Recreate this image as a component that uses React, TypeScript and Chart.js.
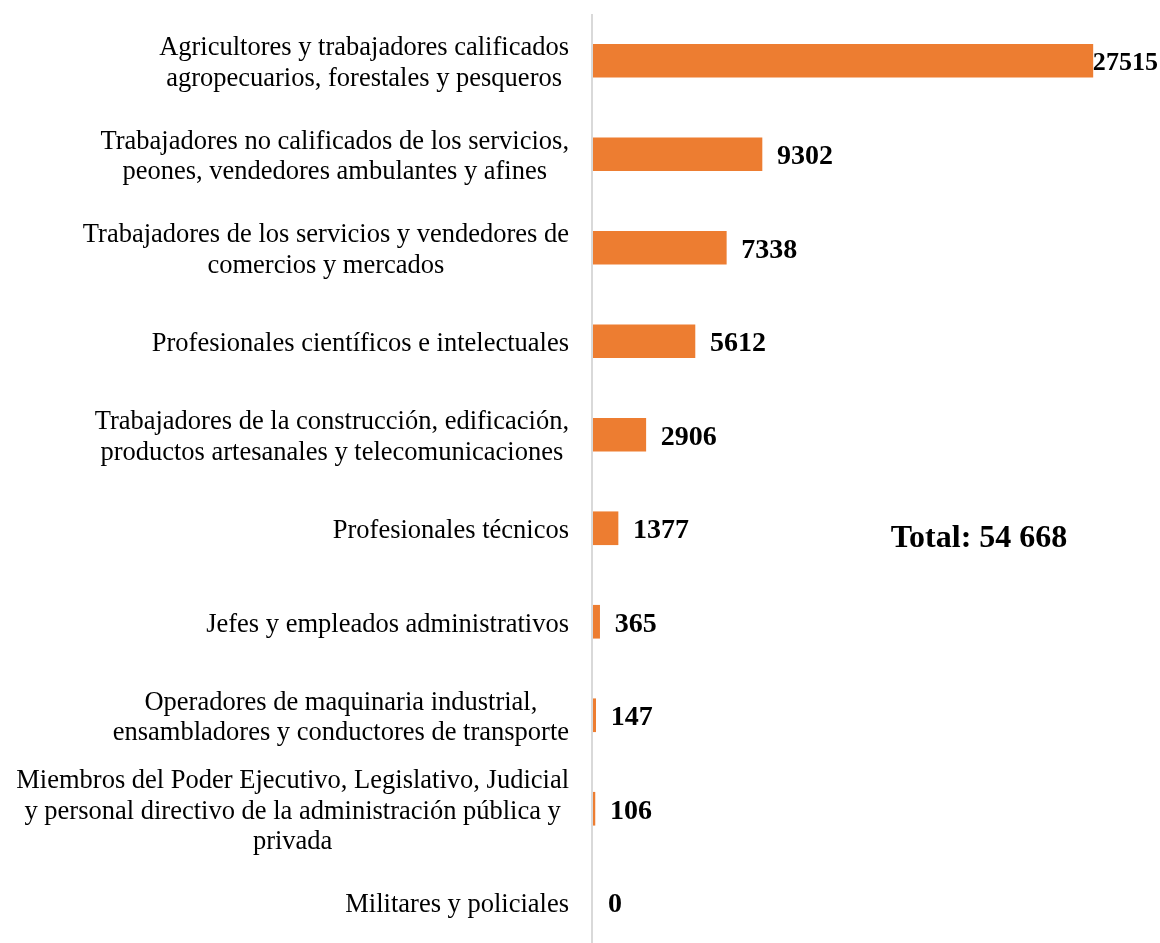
import { useEffect, useRef } from "react";
import { Chart, registerables } from "chart.js";

Chart.register(...registerables);

const categories: string[][] = [
  ["Agricultores y trabajadores calificados", "agropecuarios, forestales y pesqueros"],
  ["Trabajadores no calificados de los servicios,", "peones, vendedores ambulantes y afines"],
  ["Trabajadores de los servicios y vendedores de", "comercios y mercados"],
  ["Profesionales científicos e intelectuales"],
  ["Trabajadores de la construcción, edificación,", "productos artesanales y telecomunicaciones"],
  ["Profesionales técnicos"],
  ["Jefes y empleados administrativos"],
  ["Operadores de maquinaria industrial,", "ensambladores y conductores de transporte"],
  [
    "Miembros del Poder Ejecutivo, Legislativo, Judicial",
    "y personal directivo de la administración pública y",
    "privada",
  ],
  ["Militares y policiales"],
];

const values: number[] = [27515, 9302, 7338, 5612, 2906, 1377, 365, 147, 106, 0];

const totalLabel = "Total: 54 668";

const FONT = '"Liberation Serif", "Times New Roman", serif';

export default function App() {
  const canvasRef = useRef<HTMLCanvasElement | null>(null);

  useEffect(() => {
    let chart: Chart | null = null;
    let cancelled = false;

    const labelsPlugin = {
      id: "customLabels",
      afterDatasetsDraw(chart: any) {
        const ctx = chart.ctx as CanvasRenderingContext2D;
        const yScale = chart.scales.y;
        const area = chart.chartArea;
        ctx.save();
        // axis line
        ctx.strokeStyle = "#d9d9d9";
        ctx.lineWidth = 2;
        ctx.beginPath();
        ctx.moveTo(area.left - 1, area.top);
        ctx.lineTo(area.left - 1, area.bottom);
        ctx.stroke();
        // category labels
        ctx.font = `26.5px ${FONT}`;
        ctx.fillStyle = "#000";
        ctx.textBaseline = "middle";
        ctx.textAlign = "center";
        const lh = 30.5;
        categories.forEach((lines, i) => {
          const y = yScale.getPixelForValue(i);
          const maxW = Math.max(...lines.map((l) => ctx.measureText(l).width));
          const cx = area.left - 24 - maxW / 2;
          lines.forEach((line, j) => {
            ctx.fillText(line, cx, y + 3 + (j - (lines.length - 1) / 2) * lh);
          });
        });
        // value labels
        ctx.textAlign = "left";
        const meta = chart.getDatasetMeta(0);
        meta.data.forEach((el: any, i: number) => {
          const txt = String(values[i]);
          let size = 28;
          ctx.font = `bold ${size}px ${FONT}`;
          const tw = ctx.measureText(txt).width;
          let tx = el.x + 15;
          if (tx + tw > chart.width - 2) {
            tx = el.x;
            const avail = chart.width - 2 - el.x;
            if (tw > avail) {
              size = (size * avail) / tw;
              ctx.font = `bold ${size}px ${FONT}`;
            }
          }
          ctx.fillText(txt, tx, el.y + 3);
        });
        // total
        ctx.font = `bold 32px ${FONT}`;
        ctx.textAlign = "center";
        ctx.fillText(totalLabel, 979, 539);
        ctx.restore();
      },
    };

    const build = () => {
      if (cancelled || !canvasRef.current) return;
      chart = new Chart(canvasRef.current, {
        type: "bar",
        data: {
          labels: categories.map((c) => c.join(" ")),
          datasets: [
            {
              data: values,
              backgroundColor: values.map((v) => (v === 0 ? "rgba(0,0,0,0)" : "#ED7D31")),
              borderWidth: 0,
              barThickness: 33,
            },
          ],
        },
        options: {
          indexAxis: "y",
          animation: false,
          responsive: true,
          maintainAspectRatio: false,
          layout: { padding: { top: 14, right: 22, left: 0, bottom: 0 } },
          plugins: {
            legend: { display: false },
            tooltip: { enabled: false },
          },
          scales: {
            x: {
              display: false,
              min: 0,
              max: 30000,
            },
            y: {
              grid: { display: false },
              border: { display: false },
              ticks: { display: false },
              afterFit(scale: any) {
                scale.width = 593;
              },
            },
          },
        },
        plugins: [labelsPlugin],
      });
    };

    const fonts = (document as any).fonts;
    if (fonts && fonts.load) {
      Promise.all([
        fonts.load(`22px "Liberation Serif"`),
        fonts.load(`bold 26px "Liberation Serif"`),
      ])
        .catch(() => {})
        .then(build);
    } else {
      build();
    }

    return () => {
      cancelled = true;
      if (chart) chart.destroy();
    };
  }, []);

  return (
    <div
      style={{
        position: "fixed",
        left: 0,
        top: 0,
        width: 1160,
        height: 943,
        overflow: "hidden",
        background: "#fff",
      }}
    >
      <div style={{ position: "relative", width: 1160, height: 949 }}>
        <canvas ref={canvasRef} />
      </div>
    </div>
  );
}
